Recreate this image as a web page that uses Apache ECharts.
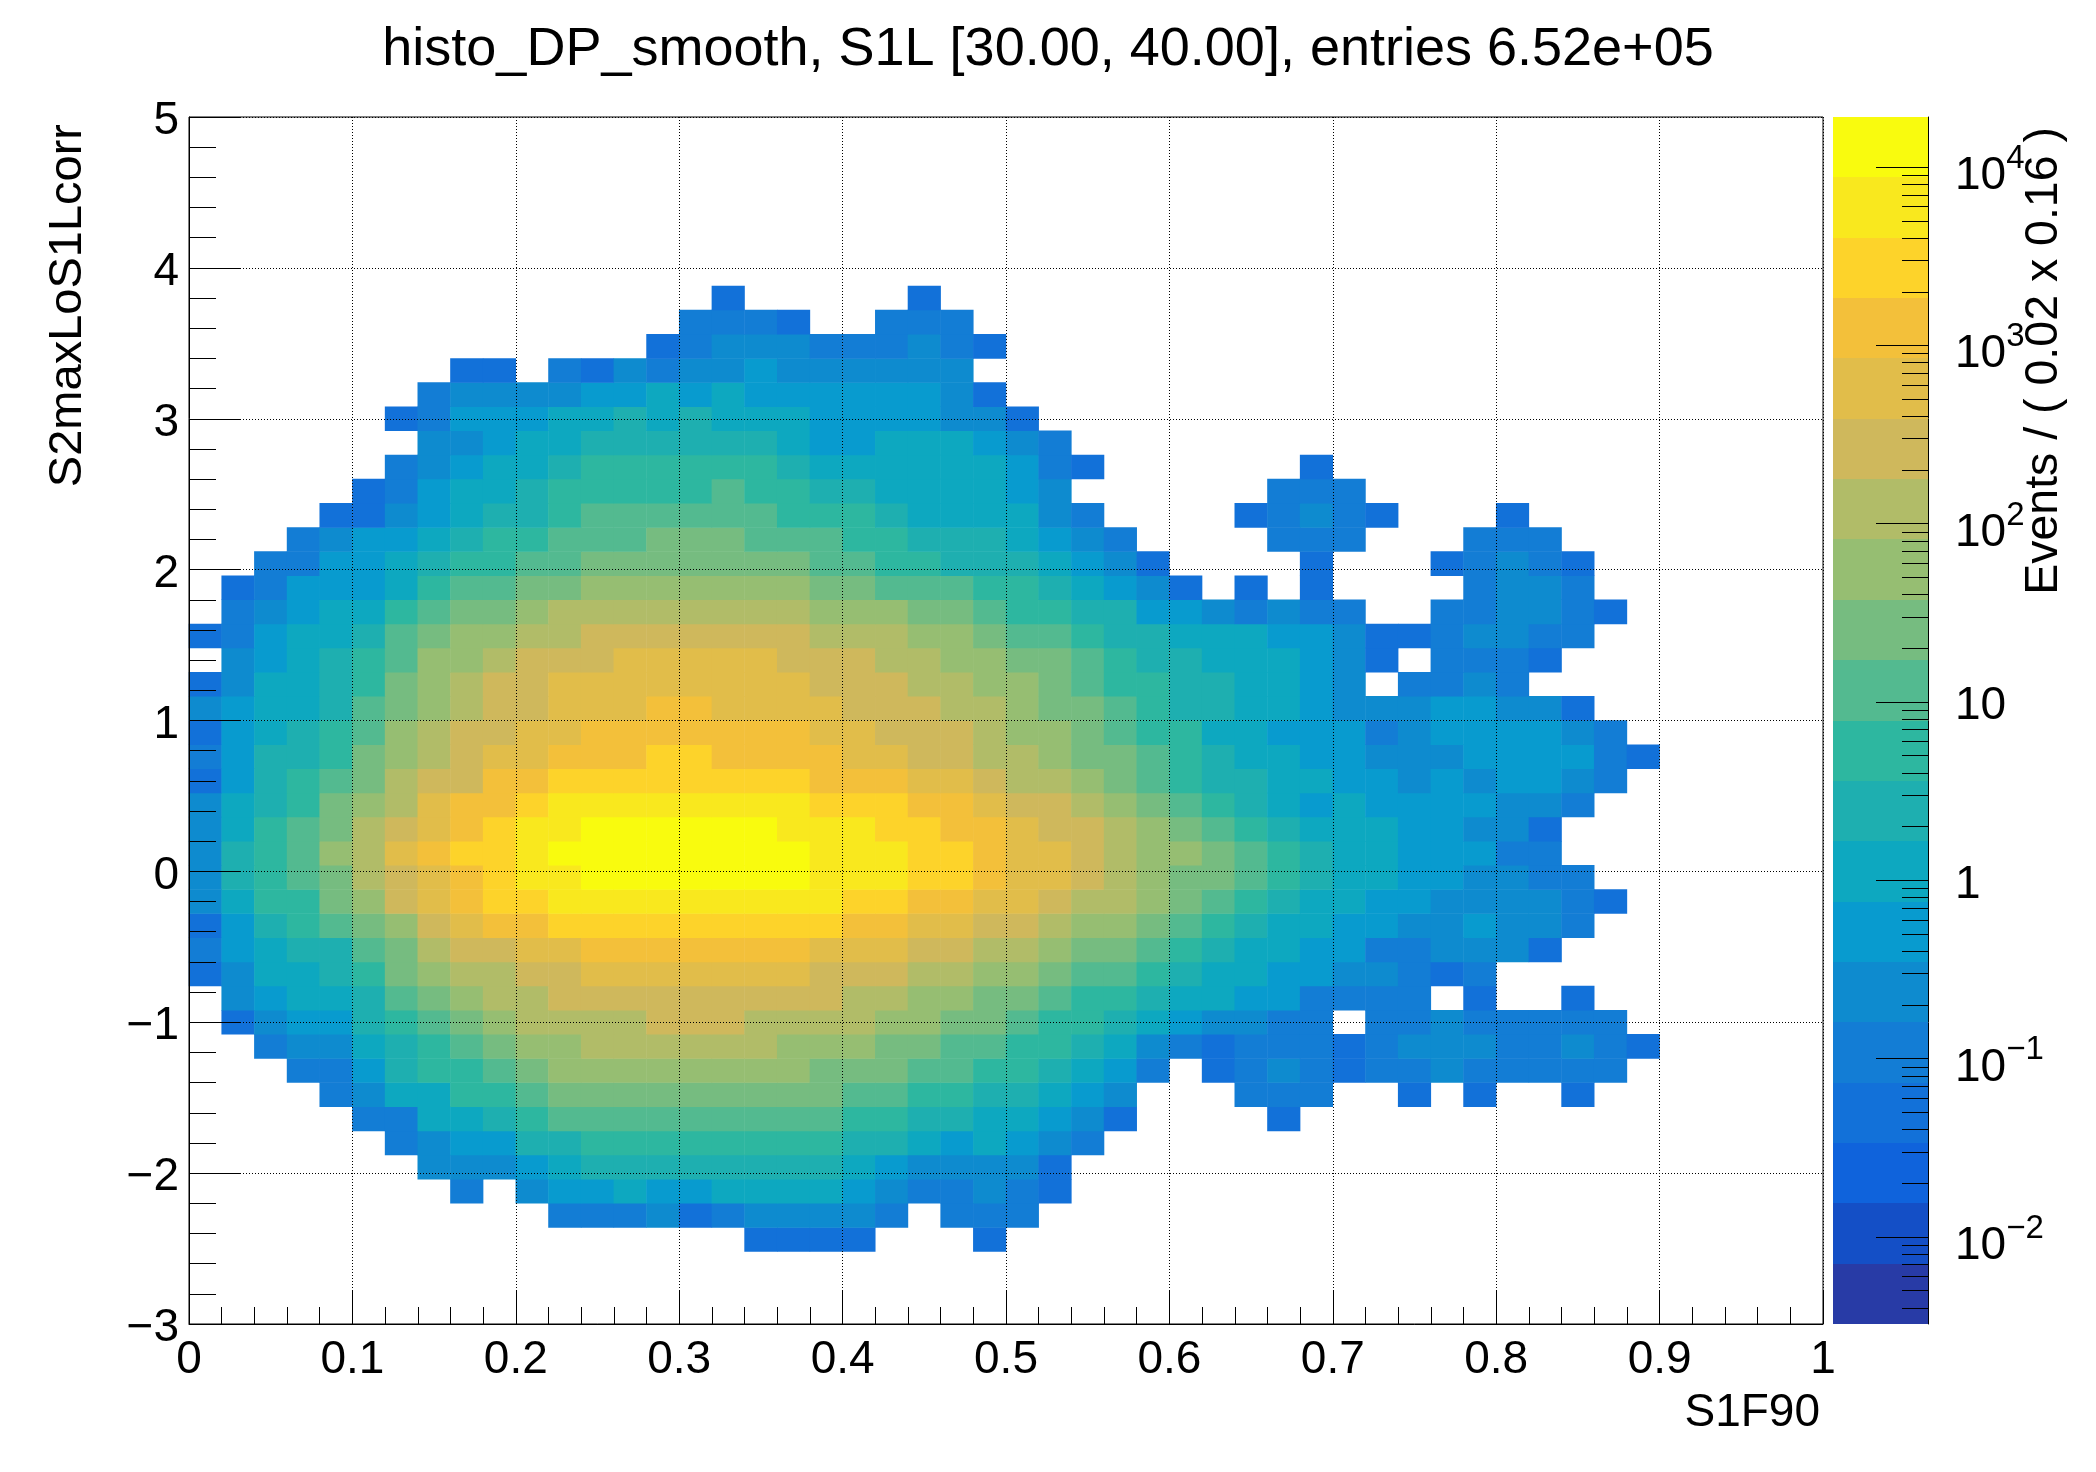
<!DOCTYPE html>
<html><head><meta charset="utf-8">
<style>html,body{margin:0;padding:0;background:#fff}#c{width:2096px;height:1472px}</style>
<script src="https://cdn.jsdelivr.net/npm/echarts@6/dist/echarts.min.js"></script>
</head><body><div id="c"></div>
<script>
// ---- chart text ----
const titleText = 'histo_DP_smooth, S1L [30.00, 40.00], entries 6.52e+05';
const xName = 'S1F90';
const yName = 'S2maxLoS1Lcorr';
const zName = 'Events / ( 0.02 x 0.16 )';

// ---- bins ----
const xBinCount = 50, yBinCount = 50;
const xMin = 0, xMax = 1, yMin = -3, yMax = 5;

// ---- colour scale: 20 equal log bands from bottom to top ----
const zLogMin = -2.49, zLogMax = 4.28;
const palette = ['#283ba6','#144fc6','#0f63dc','#1271d9','#137dd5','#0e8bcf','#089bcf','#0da8c0','#1eafb0','#2db7a0',
                 '#53ba90','#76bc80','#96be72','#b1bc68','#cfb85c','#e1bd4a','#f3c03a','#fdd32a','#f9e81e','#f9fb0e'];
const zTickPowers = [-2,-1,0,1,2,3,4];

// ---- cell readings: one entry per y bin (first bin = firstRow): [first x bin, one char per x bin],
//      char = colour band 0-9,a-j, '.' = empty ----
const firstRow = 3;
const levelRows = [
 /* 3*/ [17,'3333...3'],
 /* 4*/ [11,'44453455554.444'],
 /* 5*/ [8,'4.56676677776544543'],
 /* 6*/ [7,'55567888888887655553'],
 /* 7*/ [6,'4566889999999988767654'],
 /* 8*/ [5,'447789aaaaaaaaa998877653....3'],
 /* 9*/ [4,'457799abbbbbbbbbaa9988765...444..3.3..3'],
 /*10*/ [3,'446899abccccccccbbbaa998764.3454344544444'],
 /*11*/ [2,'455789abccddddddcccbbaa99875434443455544543'],
 /*12*/ [1,'356689abcddddeeeddddccbba998765544.44544444'],
 /*13*/ [1,'56778abcddeeeeeeeeeddccbba99877664444.3..3'],
 /*14*/ [0,'357789bcddeefffffffeeeddccbaa98776655434'],
 /*15*/ [0,'46788abdeeffgggggggfffeeddcbba987766445553'],
 /*16*/ [0,'3689abcefgghhhhhhhhhggffeedccba987766556554'],
 /*17*/ [0,'5799bcefghhiiiiiiiiihhggffeddcba987766555543'],
 /*18*/ [0,'589abdefghiijjjjjjjiiihhgffedcbba9877665544'],
 /*19*/ [0,'589acdfghhijjjjjjjjiiihhgffedccba987766644'],
 /*20*/ [0,'579abdefghiijjjjjjiiihhggfeedcba9877766553'],
 /*21*/ [0,'5789bcdfgghiiiiiiiihhhggfeedcba987676666554'],
 /*22*/ [0,'3689abdeegghhhhhhhhgggffeddcba98877665656654'],
 /*23*/ [0,'46889bcdeffggghhggggffeeddcbba987766555666643'],
 /*24*/ [0,'36789acdeeffgggggggffeeedccba997766645666654'],
 /*25*/ [0,'56778abcdeefffggffffeeeddcbba98877655566553'],
 /*26*/ [0,'357789bcdeeffffffffeeeddccba99887765.4454'],
 /*27*/ [1,'56789accdeeefffffeeeddccbba988777653.4443'],
 /*28*/ [0,'346778abccddeeeeeeedddccbaa9887776653345544'],
 /*29*/ [1,'456779abbcddddddddcccbba99886654544..445543'],
 /*30*/ [1,'3466679aabbcccccccbbaaa9987653.3.3....4554'],
 /*31*/ [2,'44667899aabbbbbbbaa998887653....3...34543'],
 /*32*/ [3,'45667899aaabbbaaa998887654....444...444'],
 /*33*/ [4,'33567889aaaaaa9998777754....34543...3'],
 /*34*/ [5,'34677899999a9988777765......444'],
 /*35*/ [6,'4567789999998777777643......3'],
 /*36*/ [7,'55677888888766777654'],
 /*37*/ [6,'34666778787776666553'],
 /*38*/ [7,'455556676766666653'],
 /*39*/ [8,'33.4354556555555'],
 /*40*/ [14,'34555444543'],
 /*41*/ [15,'4443..444'],
 /*42*/ [16,'3.....3']
];

// ---- tick lists for the colour bar ----
const zMinorMultipliers = [2,3,4,5,6,7,8,9];
const zMinorPowers = [-3,-2,-1,0,1,2,3,4];

// ---- build ----
const step = (zLogMax - zLogMin) / palette.length;
const levelValue = l => Math.pow(10, zLogMin + (l + 0.5) * step);
const CH = '0123456789abcdefghij';
const cells = [];
levelRows.forEach((r, i) => {
  [...r[1]].forEach((ch, k) => {
    if (ch === '.') return;
    cells.push([r[0] + k, firstRow + i, levelValue(CH.indexOf(ch))]);
  });
});
const xCats = Array.from({length: xBinCount}, (_, i) => (xMin + i * (xMax - xMin) / xBinCount).toFixed(2));
const yCats = Array.from({length: yBinCount}, (_, i) => (yMin + i * (yMax - yMin) / yBinCount).toFixed(2));
const pieces = palette.map((color, i) => ({
  min: Math.pow(10, zLogMin + i * step), max: Math.pow(10, zLogMin + (i + 1) * step), color
}));
const bands = palette.map((color, i) => [Math.pow(10, zLogMin + i * step), Math.pow(10, zLogMin + (i + 1) * step), i]);
const zTop = Math.pow(10, zLogMax), zBottom = Math.pow(10, zLogMin);
const zTicks = zTickPowers.map(p => [Math.pow(10, p), 52]);
zMinorPowers.forEach(p => zMinorMultipliers.forEach(m => {
  const v = m * Math.pow(10, p);
  if (v > zBottom && v < zTop) zTicks.push([v, 26]);
}));

const FONT = '"Liberation Sans", Arial, sans-serif';
const FS = 46;
const GL = 189, GW = 1634, GT = 117, GH = 1207;
const BL = 1833, BW = 95;

const chart = echarts.init(document.getElementById('c'), null, {renderer: 'canvas', width: 2096, height: 1472});
chart.setOption({
  animation: false,
  backgroundColor: '#fff',
  grid: [
    {left: GL, top: GT, width: GW, height: GH, containLabel: false},
    {left: GL, top: GT, width: GW, height: GH, containLabel: false, show: true, borderColor: '#000', borderWidth: 1, backgroundColor: 'transparent', z: 5},
    {left: BL, top: GT, width: BW, height: GH, containLabel: false}
  ],
  xAxis: [
    {gridIndex: 0, type: 'category', data: xCats, show: false},
    {gridIndex: 1, type: 'value', min: xMin, max: xMax, interval: 0.1, z: 6,
     axisLine: {show: true, onZero: false, lineStyle: {color: '#000', width: 1}},
     axisTick: {show: true, inside: true, length: 34, lineStyle: {color: '#000', width: 1}},
     minorTick: {show: true, splitNumber: 5, length: 17, lineStyle: {color: '#000', width: 1}},
     splitLine: {show: true, lineStyle: {color: '#000', width: 1, type: [1, 2]}},
     axisLabel: {color: '#000', fontFamily: FONT, fontSize: FS, margin: 13, hideOverlap: false,
                 formatter: v => String(+v.toFixed(1))}},
    {gridIndex: 2, type: 'value', min: 0, max: 1, show: false}
  ],
  yAxis: [
    {gridIndex: 0, type: 'category', data: yCats, show: false},
    {gridIndex: 1, type: 'value', min: yMin, max: yMax, interval: 1, z: 6,
     axisLine: {show: true, onZero: false, lineStyle: {color: '#000', width: 1}},
     axisTick: {show: true, inside: true, length: 52, lineStyle: {color: '#000', width: 1}},
     minorTick: {show: true, splitNumber: 5, length: 27, lineStyle: {color: '#000', width: 1}},
     splitLine: {show: true, lineStyle: {color: '#000', width: 1, type: [1, 2]}},
     axisLabel: {color: '#000', fontFamily: FONT, fontSize: FS, margin: 10,
                 formatter: v => '{a|' + (v < 0 ? '\u2212' + Math.abs(v) : String(v)) + '}',
                 rich: {a: {fontFamily: FONT, fontSize: FS, color: '#000', padding: [9, 0, 0, 0]}}}},
    {gridIndex: 2, type: 'log', logBase: 10, min: zBottom, max: zTop, position: 'right', z: 6,
     axisLine: {show: true, onZero: false, lineStyle: {color: '#000', width: 1}},
     axisTick: {show: false}, minorTick: {show: false}, splitLine: {show: false},
     axisLabel: {color: '#000', fontFamily: FONT, fontSize: FS, margin: 27, showMinLabel: false, showMaxLabel: false,
       padding: [10, 0, 0, 0],
       formatter: v => {
         const p = Math.log10(v);
         if (Math.abs(p - Math.round(p)) > 1e-6) return '';
         const k = Math.round(p);
         if (k === 0) return '1';
         if (k === 1) return '10';
         return '{b|10}{s|' + (k < 0 ? '\u2212' + (-k) : k) + '}';
       },
       rich: {b: {fontFamily: FONT, fontSize: FS, color: '#000', padding: [9, 0, 0, 0]},
              s: {fontFamily: FONT, fontSize: 33, color: '#000', padding: [0, 0, 26, 0]}}}}
  ],
  visualMap: {type: 'piecewise', show: false, seriesIndex: 0, dimension: 2, pieces},
  series: [
    {type: 'heatmap', name: 'cells', xAxisIndex: 0, yAxisIndex: 0, data: cells, progressive: 0, itemStyle: {borderWidth: 0}, emphasis: {disabled: true}, silent: true},
    {type: 'custom', name: 'bands', xAxisIndex: 2, yAxisIndex: 2, data: bands, z: 2, silent: true, clip: false,
     encode: {y: [0, 1]},
     renderItem: (params, api) => {
       const lo = api.coord([0, api.value(0)]), hi = api.coord([1, api.value(1)]);
       const top = Math.round(hi[1]), bot = Math.round(lo[1]);
       return {type: 'rect', shape: {x: lo[0], y: top, width: hi[0] - lo[0], height: bot - top},
               style: {fill: palette[api.value(2)]}};
     }},
    {type: 'custom', name: 'zTicks', xAxisIndex: 2, yAxisIndex: 2, data: zTicks, z: 5, silent: true, clip: false,
     encode: {y: 0},
     renderItem: (params, api) => {
       const p = api.coord([1, api.value(0)]);
       const y = Math.round(p[1]) + 0.5;
       return {type: 'line', shape: {x1: p[0], y1: y, x2: p[0] - api.value(1), y2: y},
               style: {stroke: '#000', lineWidth: 1}};
     }}
  ],
  graphic: [
    {type: 'text', x: 1048, y: 50, z: 20, style: {text: titleText, fill: '#000', font: '54px ' + FONT, textAlign: 'center', textVerticalAlign: 'middle'}},
    {type: 'text', x: 1820, y: 1413, z: 20, style: {text: xName, fill: '#000', font: FS + 'px ' + FONT, textAlign: 'right', textVerticalAlign: 'middle'}},
    {type: 'text', x: 68, y: 124, z: 20, rotation: Math.PI / 2, style: {text: yName, fill: '#000', font: '47px ' + FONT, textAlign: 'right', textVerticalAlign: 'middle'}},
    {type: 'text', x: 2044, y: 127, z: 20, rotation: Math.PI / 2, style: {text: zName, fill: '#000', font: '46.5px ' + FONT, textAlign: 'right', textVerticalAlign: 'middle'}}
  ]
});
</script></body></html>
